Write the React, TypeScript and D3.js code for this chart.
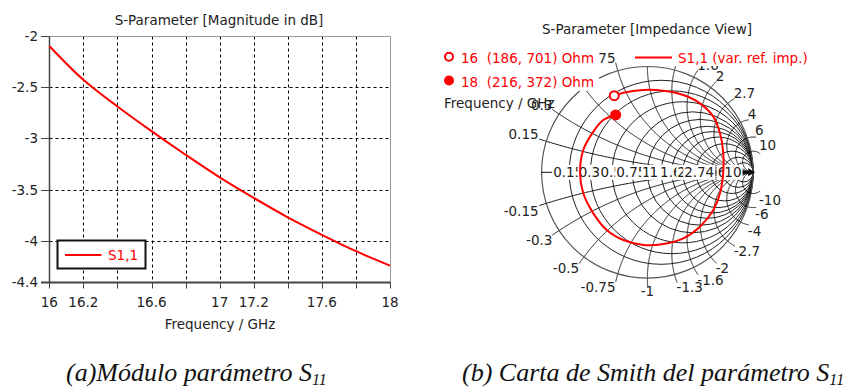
import React from 'react';
import * as d3 from 'd3';

// ---------- Data: left chart (|S11| in dB) ----------
const freqGHz = [16, 16.2, 16.4, 16.6, 16.8, 17, 17.2, 17.4, 17.6, 17.8, 18];
const s11dB = [-2.1, -2.43, -2.69, -2.93, -3.16, -3.38, -3.58, -3.77, -3.94, -4.1, -4.24];
const xTickVals = [16, 16.2, 16.6, 17, 17.2, 17.6, 18];
const xTickLabels = ['16', '16.2', '16.6', '17', '17.2', '17.6', '18'];
const xGridVals = [16.2, 16.4, 16.6, 16.8, 17, 17.2, 17.4, 17.6, 17.8];
const xMinorTicks = [16, 16.2, 16.4, 16.6, 16.8, 17, 17.2, 17.4, 17.6, 17.8, 18];
const yTickVals = [-2, -2.5, -3, -3.5, -4, -4.4];
const yTickLabels = ['-2', '-2.5', '-3', '-3.5', '-4', '-4.4'];
const yGridVals = [-2.5, -3, -3.5, -4];

// ---------- Data: Smith chart (reflection coefficient, Re / Im) ----------
const smithRe = [-0.313, -0.228, -0.039, 0.15, 0.339, 0.497, 0.623, 0.686, 0.717, 0.717, 0.686, 0.623, 0.497, 0.339, 0.15, -0.039, -0.228, -0.385, -0.511, -0.606, -0.637, -0.606, -0.511, -0.417, -0.3];
const smithIm = [0.724, 0.752, 0.778, 0.771, 0.731, 0.652, 0.526, 0.369, 0.18, 0.0, -0.198, -0.356, -0.514, -0.624, -0.678, -0.687, -0.64, -0.545, -0.388, -0.198, 0.0, 0.211, 0.384, 0.494, 0.542];
const markerLabels = ['16  (186, 701) Ohm', '18  (216, 372) Ohm'];
const markerRe = [-0.313, -0.3];
const markerIm = [0.724, 0.542];
const resistanceVals = [0.15, 0.3, 0.5, 0.75, 1, 1.3, 1.6, 2, 2.7, 4, 6, 10];
const resistanceLabels = ['0.15', '0.3', '0.5', '0.75', '1', '1.3', '1.6', '2', '2.7', '4', '6', '10'];
const reactanceVals = [0.15, 0.3, 0.5, 0.75, 1, 1.3, 1.6, 2, 2.7, 4, 6, 10];
const reactanceLabels = ['0.15', '0.3', '0.5', '0.75', '1', '1.3', '1.6', '2', '2.7', '4', '6', '10'];

const FONT = "'DejaVu Sans', Verdana, sans-serif";
const FS = 13.5;
const RED = '#ff0000';
const crisp = (v: number) => Math.round(v) + 0.5;

function textWidth(s: string, fs: number) {
  let w = 0;
  for (const c of s) {
    if (c >= '0' && c <= '9') w += 0.636;
    else if (c === '.') w += 0.318;
    else if (c === '-') w += 0.361;
    else w += 0.6;
  }
  return w * fs;
}

function LeftChart() {
  const x = d3.scaleLinear().domain([16, 18]).range([49.3, 390]);
  const y = d3.scaleLinear().domain([-2, -4.4]).range([35.7, 282]);
  const line = d3
    .line<number>()
    .x((_, i) => x(freqGHz[i]))
    .y((d) => y(d))
    .curve(d3.curveCatmullRom);
  const x0 = crisp(x(16)), x1 = crisp(x(18)), y0 = crisp(y(-2)), y1 = crisp(y(-4.4));
  return (
    <g>
      <text x={219} y={24.5} fontFamily={FONT} fontSize={FS} textAnchor="middle" fill="#222">
        S-Parameter [Magnitude in dB]
      </text>
      {/* grid */}
      {xGridVals.map((v) => (
        <line key={'gx' + v} x1={crisp(x(v))} x2={crisp(x(v))} y1={y0} y2={y1} stroke="#000" strokeWidth={1} strokeDasharray="3,3" />
      ))}
      {yGridVals.map((v) => (
        <line key={'gy' + v} x1={x0} x2={x1} y1={crisp(y(v))} y2={crisp(y(v))} stroke="#000" strokeWidth={1} strokeDasharray="3,3" />
      ))}
      {/* frame */}
      <line x1={x0} x2={x1} y1={y0} y2={y0} stroke="#999" strokeWidth={1} />
      <line x1={x1} x2={x1} y1={y0} y2={y1} stroke="#999" strokeWidth={1} />
      <line x1={x0} x2={x0} y1={y0} y2={y1 + 1} stroke="#444" strokeWidth={1.5} />
      <line x1={41} x2={x1} y1={y1} y2={y1} stroke="#444" strokeWidth={2} />
      {yTickVals.map((v) => (
        <line key={'ty' + v} x1={41} x2={x0} y1={crisp(y(v))} y2={crisp(y(v))} stroke="#444" strokeWidth={1} />
      ))}
      {xMinorTicks.map((v) => (
        <line key={'tx' + v} x1={crisp(x(v))} x2={crisp(x(v))} y1={y1} y2={y1 + 6} stroke="#444" strokeWidth={1} />
      ))}
      {/* tick labels */}
      {yTickVals.map((v, i) => (
        <text key={'ly' + v} x={38} y={y(v) + 5} fontFamily={FONT} fontSize={FS} textAnchor="end" fill="#222">
          {yTickLabels[i]}
        </text>
      ))}
      {xTickVals.map((v, i) => (
        <text key={'lx' + v} x={x(v)} y={307} fontFamily={FONT} fontSize={FS} textAnchor="middle" fill="#222">
          {xTickLabels[i]}
        </text>
      ))}
      <text x={220} y={329} fontFamily={FONT} fontSize={FS} textAnchor="middle" fill="#222">
        Frequency / GHz
      </text>
      {/* curve */}
      <path d={line(s11dB) || ''} fill="none" stroke={RED} strokeWidth={2} />
      {/* legend */}
      <rect x={57.5} y={240.5} width={88} height={28} fill="#fff" stroke="#111" strokeWidth={2} />
      <line x1={65} x2={101.5} y1={255} y2={255} stroke={RED} strokeWidth={2} />
      <text x={108} y={260} fontFamily={FONT} fontSize={FS} fill={RED}>
        S1,1
      </text>
    </g>
  );
}

function SmithChart() {
  const cx = 647.4, cy = 172.3, R = 105.8;
  const sx = d3.scaleLinear().domain([-1, 1]).range([cx - R, cx + R]);
  const sy = d3.scaleLinear().domain([-1, 1]).range([cy + R, cy - R]);
  const rad = (u: number) => sx(u) - sx(0);

  const arcPath = (xv: number) => {
    const rho = 1 / Math.abs(xv);
    const sgn = xv > 0 ? 1 : -1;
    const pts: [number, number][] = [[1, 0]];
    const dt = 0.002;
    for (let t = -Math.PI / 2 - dt; t > -2.5 * Math.PI; t -= dt) {
      const gx = 1 + rho * Math.cos(t);
      const gy = sgn * (rho + rho * Math.sin(t));
      if (Math.hypot(gx, gy) > 1.08) break;
      pts.push([gx, gy]);
    }
    return d3.line<[number, number]>().x((p) => sx(p[0])).y((p) => sy(p[1]))(pts) || '';
  };

  const curve = d3
    .line<number>()
    .x((d) => sx(d))
    .y((_, i) => sy(smithIm[i]))
    .curve(d3.curveCatmullRom);

  const reactLabel = (xv: number, label: string, key: string) => {
    const th = Math.atan2(2 * xv, xv * xv - 1);
    const px = cx + (R + 8) * Math.cos(th);
    const py = cy - (R + 8) * Math.sin(th);
    const c = Math.cos(th);
    const anchor = c > 0.15 ? 'start' : c < -0.15 ? 'end' : 'middle';
    const by = Math.sin(th) >= 0 ? py : py + 10;
    return (
      <text key={key} x={px} y={by} fontFamily={FONT} fontSize={FS} textAnchor={anchor} fill="#222">
        {label}
      </text>
    );
  };

  return (
    <g>
      <text x={647} y={34} fontFamily={FONT} fontSize={FS} textAnchor="middle" fill="#222">
        S-Parameter [Impedance View]
      </text>
      {/* resistance circles */}
      {resistanceVals.map((r) => (
        <circle key={'rc' + r} cx={sx(r / (r + 1))} cy={sy(0)} r={rad(1 / (r + 1))} fill="none" stroke="#222" strokeWidth={1} />
      ))}
      {/* reactance arcs */}
      {reactanceVals.map((xv) => (
        <g key={'xa' + xv}>
          <path d={arcPath(xv)} fill="none" stroke="#111" strokeWidth={1} />
          <path d={arcPath(-xv)} fill="none" stroke="#111" strokeWidth={1} />
        </g>
      ))}
      <circle cx={sx(0)} cy={sy(0)} r={rad(1)} fill="none" stroke="#555" strokeWidth={1.2} />
      {/* real axis */}
      <line x1={sx(-1)} x2={sx(1)} y1={sy(0)} y2={sy(0)} stroke="#111" strokeWidth={1} />
      <path d={`M${sx(1) - 5},${sy(0) - 4} L${sx(1) + 2},${sy(0)} L${sx(1) - 5},${sy(0) + 4} Z`} fill="#111" />
      {resistanceVals.map((r, i) => {
        const lx = sx((r - 1) / (r + 1)) - 1;
        const w = textWidth(resistanceLabels[i], FS);
        return (
          <g key={'rl' + r}>
            <rect x={lx - w / 2 - 1} y={sy(0) - 7.5} width={w + 2} height={15} fill="#fff" />
            <text x={lx} y={sy(0) + 5} fontFamily={FONT} fontSize={FS} textAnchor="middle" fill="#222">
              {resistanceLabels[i]}
            </text>
          </g>
        );
      })}
      {reactanceVals.map((xv, i) => reactLabel(xv, reactanceLabels[i], 'xp' + xv))}
      {reactanceVals.map((xv, i) => reactLabel(-xv, '-' + reactanceLabels[i], 'xn' + xv))}
      {/* curve */}
      <path d={curve(smithRe) || ''} fill="none" stroke={RED} strokeWidth={2} />
      <circle cx={sx(markerRe[0])} cy={sy(markerIm[0])} r={4.5} fill="#fff" stroke={RED} strokeWidth={2} />
      <circle cx={sx(markerRe[1])} cy={sy(markerIm[1])} r={5.5} fill={RED} />
      {/* legends */}
      <rect x={440} y={46} width={159} height={45} fill="#fff" />
      <rect x={630} y={46} width={188} height={20} fill="#fff" />
      <circle cx={449} cy={56.7} r={4} fill="#fff" stroke={RED} strokeWidth={2} />
      <circle cx={449} cy={80.5} r={5} fill={RED} />
      <text x={461} y={63} fontFamily={FONT} fontSize={FS} fill={RED} style={{ whiteSpace: 'pre' }}>
        {markerLabels[0]}
      </text>
      <text x={461} y={86.5} fontFamily={FONT} fontSize={FS} fill={RED} style={{ whiteSpace: 'pre' }}>
        {markerLabels[1]}
      </text>
      <text x={444} y={107.5} fontFamily={FONT} fontSize={FS} fill="#222">
        Frequency / GHz
      </text>
      <line x1={635} x2={672} y1={57.5} y2={57.5} stroke={RED} strokeWidth={2} />
      <text x={678} y={63} fontFamily={FONT} fontSize={FS} fill={RED}>
        S1,1 (var. ref. imp.)
      </text>
    </g>
  );
}

export default function App() {
  const capFont = "'Liberation Serif', 'Times New Roman', serif";
  return (
    <svg width={866} height={389} style={{ position: 'absolute', left: 0, top: 0, background: '#fff' }}>
      <rect x={0} y={0} width={866} height={389} fill="#fff" />
      <LeftChart />
      <SmithChart />
      <text x={66} y={381} fontFamily={capFont} fontStyle="italic" fontSize={26} fill="#111">
        (a)Módulo parámetro S<tspan fontSize={16} dy={4}>11</tspan>
      </text>
      <text x={462} y={381} fontFamily={capFont} fontStyle="italic" fontSize={26} fill="#111">
        (b) Carta de Smith del parámetro S<tspan fontSize={16} dy={4}>11</tspan>
      </text>
    </svg>
  );
}
